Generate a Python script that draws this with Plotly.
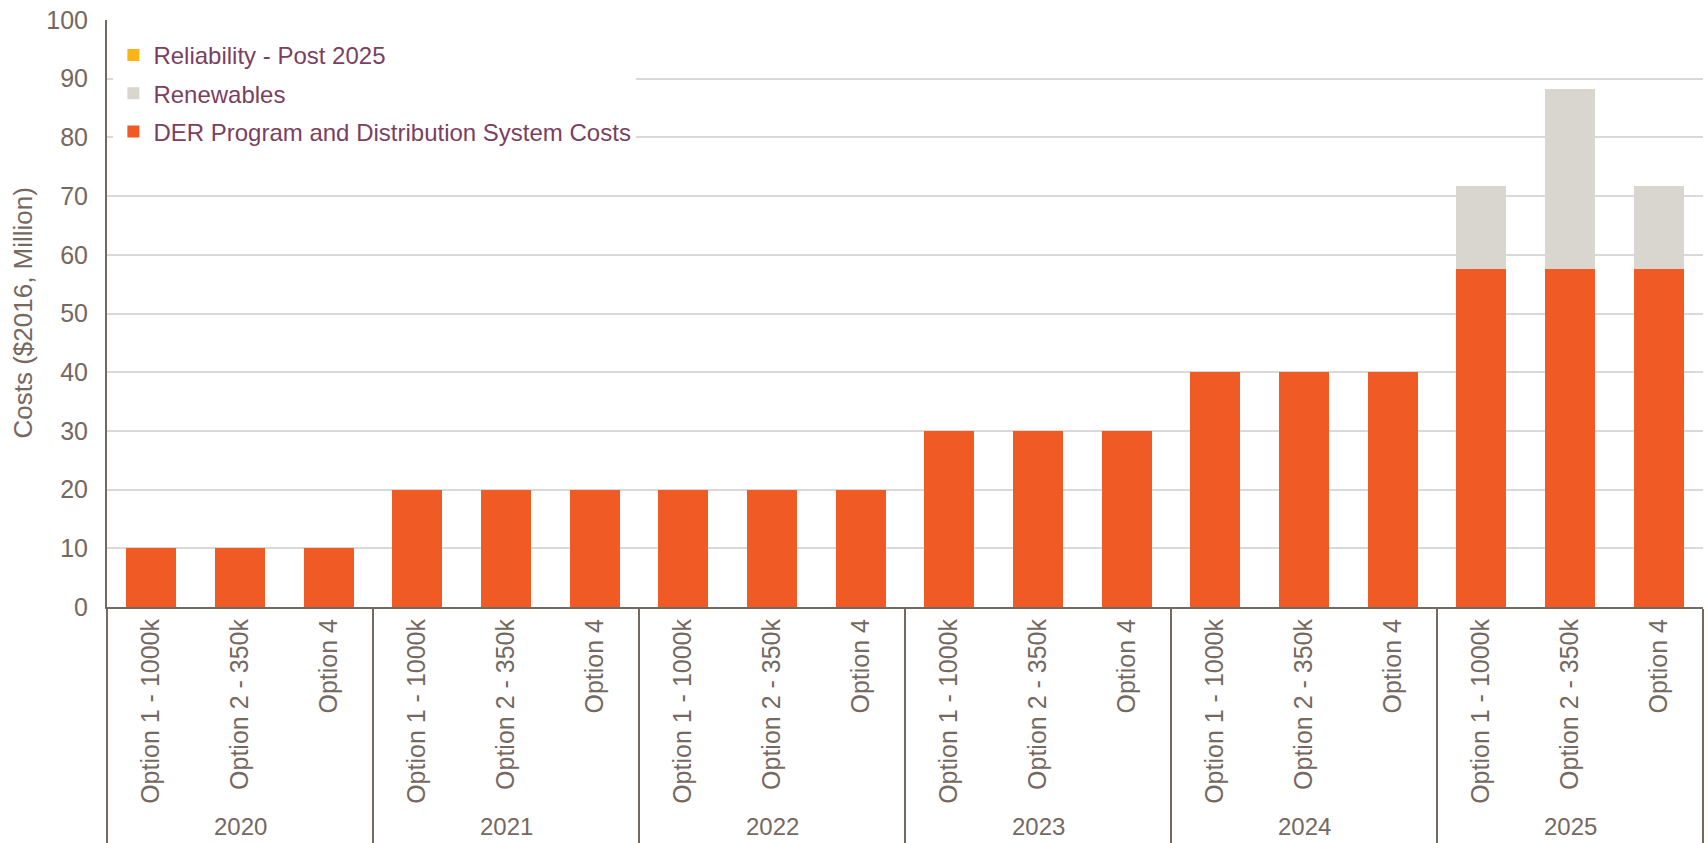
import plotly.graph_objects as go

years = ["2020", "2021", "2022", "2023", "2024", "2025"]
options = ["Option 1 - 1000k", "Option 2 - 350k", "Option 4"]

der = [10, 10, 10, 20, 20, 20, 20, 20, 20, 30, 30, 30, 40, 40, 40, 57.5, 57.5, 57.5]
renewables = [0, 0, 0, 0, 0, 0, 0, 0, 0, 0, 0, 0, 0, 0, 0, 14.3, 30.8, 14.3]
reliability = [0] * 18

# outer level keys (blank so the year text can be placed as annotations)
year_keys = [" " * (i + 1) for i in range(len(years))]
x_outer = [k for k in year_keys for _ in options]
x_inner = [o for _ in years for o in options]

TXT = "#75685F"
LEG = "#7B3F5F"
FONT = "Liberation Sans, Arial, sans-serif"

W, H = 1708, 843
ML, MR, MT, MB = 107, 5, 20, 236
PW, PH = W - ML - MR, H - MT - MB

fig = go.Figure()
fig.add_trace(go.Bar(x=[x_outer, x_inner], y=der, name="DER Program and Distribution System Costs",
                     marker=dict(color="#F05A24", line=dict(width=0)), legendrank=3, legendgroup="c"))
fig.add_trace(go.Bar(x=[x_outer, x_inner], y=renewables, name="Renewables",
                     marker=dict(color="#D9D5CF", line=dict(width=0)), legendrank=2, legendgroup="b"))
fig.add_trace(go.Bar(x=[x_outer, x_inner], y=reliability, name="Reliability - Post 2025",
                     marker=dict(color="#FDB515", line=dict(width=0)), legendrank=1, legendgroup="a"))

annotations = [dict(text="Costs ($2016, Million)", textangle=-90, showarrow=False,
                    xref="paper", yref="paper", x=(22 - ML) / PW, y=0.5,
                    xanchor="center", yanchor="middle",
                    font=dict(size=26, color=TXT, family=FONT))]
for i, yr in enumerate(years):
    annotations.append(dict(text=yr, showarrow=False, xref="paper", yref="paper",
                            x=(i + 0.5) / len(years), y=-(842 - (H - MB)) / PH,
                            xanchor="center", yanchor="bottom",
                            font=dict(size=24, color=TXT, family=FONT)))

fig.update_layout(
    width=W, height=H,
    margin=dict(l=ML, r=MR, t=MT, b=MB, autoexpand=False),
    barmode="stack", bargap=0.435,
    plot_bgcolor="white", paper_bgcolor="white",
    font=dict(family=FONT, color=TXT, size=24),
    showlegend=True,
    legend=dict(x=0.004, y=0.978, xanchor="left", yanchor="top",
                bgcolor="white", traceorder="grouped", tracegroupgap=4,
                font=dict(size=24, color=LEG, family=FONT), itemwidth=30),
    xaxis=dict(type="multicategory", tickangle=-90, showline=True, linecolor=TXT, linewidth=2,
               showdividers=True, dividercolor=TXT, dividerwidth=2, automargin=False,
               tickfont=dict(size=25, color=TXT), ticks=""),
    yaxis=dict(range=[0, 100], dtick=10, showgrid=True, gridcolor="#D9D9D9", gridwidth=2,
               showline=True, linecolor=TXT, linewidth=2, zeroline=False, automargin=False,
               tickfont=dict(size=25, color=TXT), ticks="", ticklabelstandoff=12),
    annotations=annotations,
)

fig.write_html("out.html")
